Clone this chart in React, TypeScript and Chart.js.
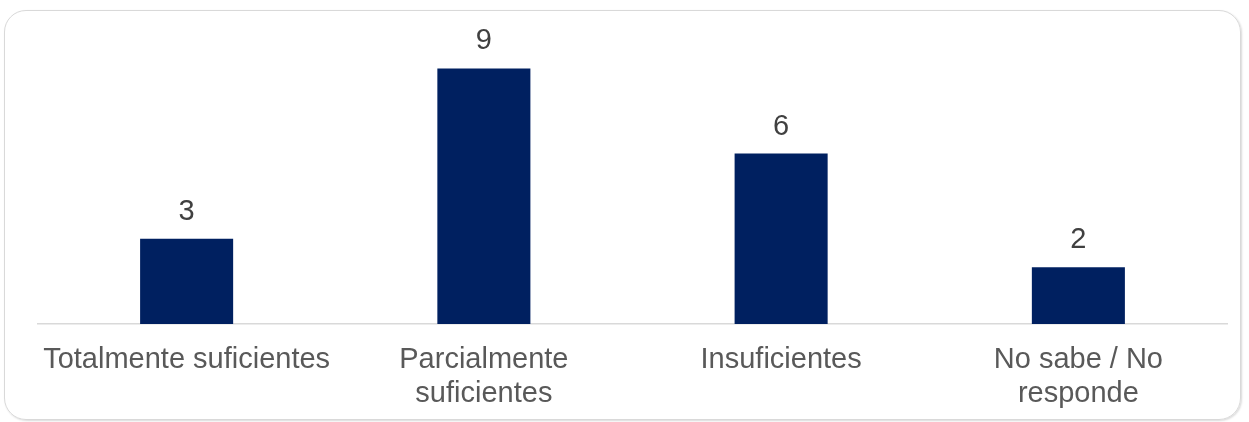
import React, { useEffect, useRef } from "react";
import { Chart, registerables } from "chart.js";

Chart.register(...registerables);

const categories: (string | string[])[] = [
  "Totalmente suficientes",
  ["Parcialmente", "suficientes"],
  "Insuficientes",
  ["No sabe / No", "responde"],
];
const counts: number[] = [3, 9, 6, 2];

const BAR_COLOR = "#002060";
const FONT = "'Liberation Sans', Arial, sans-serif";

const dataLabels = {
  id: "dataLabels",
  afterDatasetsDraw(chart: any) {
    const { ctx } = chart;
    const meta = chart.getDatasetMeta(0);
    ctx.save();
    ctx.font = `29px ${FONT}`;
    ctx.fillStyle = "#404040";
    ctx.textAlign = "center";
    ctx.textBaseline = "alphabetic";
    meta.data.forEach((bar: any, i: number) => {
      ctx.fillText(String(counts[i]), bar.x, bar.y - 19);
    });
    ctx.restore();
  },
};

export default function App() {
  const canvasRef = useRef<HTMLCanvasElement | null>(null);

  useEffect(() => {
    if (!canvasRef.current) return;
    const chart = new Chart(canvasRef.current, {
      type: "bar",
      data: {
        labels: categories,
        datasets: [
          {
            data: counts,
            backgroundColor: BAR_COLOR,
            borderWidth: 0,
            barPercentage: 0.313,
            categoryPercentage: 1,
          },
        ],
      },
      options: {
        animation: false,
        responsive: false,
        maintainAspectRatio: false,
        layout: { padding: { left: 38, right: 22, top: 40, bottom: -8 } },
        plugins: {
          legend: { display: false },
          tooltip: { enabled: false },
          title: { display: false },
        },
        scales: {
          x: {
            grid: { display: false, drawTicks: false },
            border: { display: true, color: "#d9d9d9", width: 1.5 },
            ticks: {
              color: "#595959",
              font: { family: FONT, size: 29, lineHeight: "34px" },
              padding: 19,
              maxRotation: 0,
              autoSkip: false,
            },
          },
          y: {
            display: false,
            min: 0,
            max: 10,
          },
        },
      },
      plugins: [dataLabels],
    });
    return () => chart.destroy();
  }, []);

  return (
    <div
      style={{
        position: "absolute",
        left: 0,
        top: 0,
        width: 1249,
        height: 422,
        background: "#ffffff",
        overflow: "hidden",
      }}
    >
      <div
        style={{
          position: "absolute",
          left: 4,
          top: 10,
          width: 1237,
          height: 410,
          border: "1.5px solid #d9d9d9",
          borderRadius: 22,
          boxSizing: "border-box",
          boxShadow: "1px 1px 2px rgba(0,0,0,0.15)",
        }}
      />
      <canvas
        ref={canvasRef}
        width={1249}
        height={422}
        style={{ position: "absolute", left: 0, top: 0, width: 1249, height: 422 }}
      />
    </div>
  );
}
